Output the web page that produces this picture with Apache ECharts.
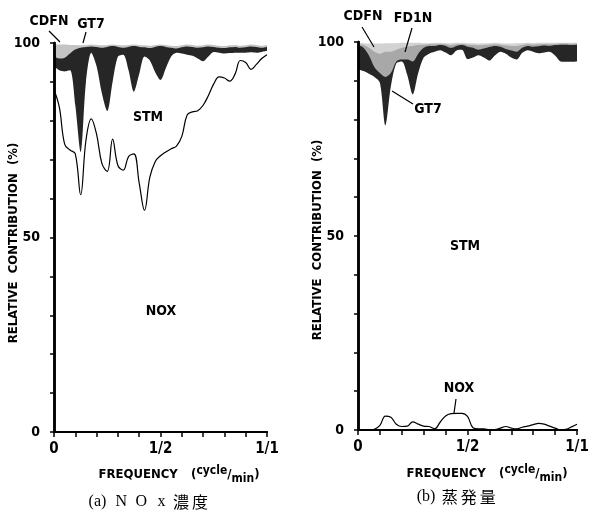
<!DOCTYPE html>
<html>
<head>
<meta charset="utf-8">
<title>relative contribution</title>
<script src="https://cdn.jsdelivr.net/npm/echarts@6/dist/echarts.min.js"></script>
<style>
  html, body { margin: 0; padding: 0; background: #fff; }
  #DIV1 { width: 594px; height: 512px; }
</style>
</head>
<body>
<div id="DIV1"></div>
<script>
// frequency grid (cycle/min), shared by every series
const freq = [0, 0.025, 0.05, 0.075, 0.1, 0.125, 0.15, 0.175, 0.2, 0.225, 0.25, 0.275, 0.3, 0.325, 0.35, 0.375, 0.4, 0.425, 0.45, 0.475, 0.5,
  0.525, 0.55, 0.575, 0.6, 0.625, 0.65, 0.675, 0.7, 0.725, 0.75, 0.775, 0.8, 0.825, 0.85, 0.875, 0.9, 0.925, 0.95, 0.975, 1];

// (a) NOx concentration: cumulative relative contribution (%)
const noxA  = [88, 83.5, 74, 72.5, 71.5, 61, 75, 80.5, 76.5, 69, 67, 75.3, 68.5, 67.3, 70.8, 71.5, 64, 57, 65.5, 69.5, 71,
  72, 72.8, 73.5, 76, 81.5, 82.3, 82.6, 84, 86.5, 89.5, 91.3, 91, 90.2, 92, 95.5, 95, 93.2, 94.5, 96, 97];
const stmA  = [94, 93, 92.7, 93, 84, 72, 90, 97.5, 94, 87, 82.5, 90, 96.5, 97, 93, 87.5, 92, 96.5, 95.5, 92.5, 90.5,
  93.5, 96.5, 97.5, 97.3, 97, 96.7, 96, 95.3, 96.5, 97.7, 97.5, 97.3, 97.4, 97.5, 97.5, 97.5, 97.6, 97.5, 97.7, 98];
const gt7A  = [96.5, 96, 96.2, 97.3, 98.3, 98.8, 99, 99.1, 99, 98.8, 99, 99.2, 99, 98.8, 99, 99.2, 99, 98.9, 98.7, 99, 99.2,
  99, 98.8, 98.6, 98.9, 99.1, 99, 98.8, 98.9, 99.1, 99, 98.8, 98.7, 98.9, 99, 98.8, 98.9, 99.1, 99, 98.8, 99];
const cdfnA = [99.7, 99.6, 99.6, 99.5, 99.5, 99.4, 99.5, 99.6, 99.5, 99.4, 99.5, 99.6, 99.5, 99.4, 99.5, 99.6, 99.5, 99.4, 99.3, 99.5, 99.6,
  99.5, 99.3, 99.2, 99.4, 99.6, 99.5, 99.3, 99.4, 99.6, 99.5, 99.3, 99.2, 99.4, 99.5, 99.3, 99.4, 99.6, 99.5, 99.3, 99.5];

// (b) evaporation
const noxB  = [0, 0, 0, 0.2, 1.2, 3.6, 3.3, 1.5, 0.9, 1, 2.1, 1.5, 1, 0.9, 0.3, 2, 3.6, 4.2, 4.3, 4.3, 3.5,
  0.6, 0.3, 0.3, 0.1, 0.1, 0.5, 0.9, 0.5, 0.3, 0.7, 1, 1.4, 1.7, 1.5, 1, 0.5, 0.1, 0.2, 0.8, 1.5];
const stmB  = [93, 92.5, 91.8, 91, 89.5, 78.5, 88.5, 94.5, 95, 91.5, 86.5, 92, 96, 97, 97.5, 97.9, 97.3, 96.6, 97.8, 98, 95.6,
  96, 96.6, 96, 95.2, 96.5, 97.5, 97, 96, 95.5, 97.2, 97.9, 97.5, 97.1, 97.3, 97.5, 96.5, 95, 94.9, 94.9, 95];
const gt7B  = [99.2, 98.5, 96.5, 93.5, 92, 91, 92, 95, 95.5, 95.5, 95, 97, 98.5, 99, 99, 99.2, 99, 98.5, 99, 99.2, 98.8,
  98.5, 98, 98.3, 98.7, 99, 98.8, 98.2, 97.8, 97.5, 98.5, 99, 98.8, 98.9, 99.1, 99, 99.2, 99.3, 99.3, 99.2, 99.3];
const fd1nB = [99.4, 99.2, 98.5, 97.5, 97, 97.5, 97.5, 98, 98.5, 98.8, 99, 99.2, 99.3, 99.4, 99.4, 99.5, 99.4, 99.2, 99.4, 99.5, 99.3,
  99.2, 99.1, 99.2, 99.3, 99.4, 99.3, 99.1, 99, 99, 99.2, 99.4, 99.3, 99.4, 99.5, 99.4, 99.5, 99.6, 99.6, 99.5, 99.6];
const cdfnB = [99.8, 99.7, 99.6, 99.6, 99.6, 99.7, 99.7, 99.7, 99.8, 99.8, 99.8, 99.8, 99.7, 99.7, 99.8, 99.8, 99.7, 99.7, 99.8, 99.8, 99.7,
  99.7, 99.6, 99.7, 99.7, 99.8, 99.7, 99.6, 99.6, 99.7, 99.7, 99.8, 99.7, 99.8, 99.8, 99.8, 99.8, 99.8, 99.8, 99.8, 99.8];

const yTickLabels = { 0: '0', 50: '50', 100: '100' };
const xTickLabels = { 0: '0', 5: '1/2', 10: '1/1' };

const BOLD = '"DejaVu Sans Condensed", "Liberation Sans", sans-serif';
const SERIF = '"Liberation Serif", serif';
const CJK = '"Noto Sans CJK JP", sans-serif';

const chart = echarts.init(document.getElementById("DIV1"));

function pairs(ys) { return freq.map((f, i) => [f, ys[i]]); }

function bottomAxis(gi) {
  return {
    gridIndex: gi, type: 'value', min: 0, max: 1, interval: 0.1, z: 10,
    axisLine: { lineStyle: { color: '#000', width: 2 } },
    axisTick: { length: 5, lineStyle: { color: '#000', width: 1.5 } },
    splitLine: { show: false },
    axisLabel: {
      margin: 10, color: '#000', fontFamily: BOLD, fontWeight: 'bold', fontSize: 15,
      showMinLabel: true, showMaxLabel: true,
      formatter: v => xTickLabels[Math.round(v * 10)] || ''
    }
  };
}
function topAxis(gi) {
  return {
    gridIndex: gi, type: 'value', position: 'top', min: 0, max: 1, z: 10,
    axisLine: { lineStyle: { color: '#000', width: 2 } },
    axisTick: { show: false }, axisLabel: { show: false }, splitLine: { show: false }
  };
}
function leftAxis(gi) {
  return {
    gridIndex: gi, type: 'value', min: 0, max: 100, interval: 10, z: 10,
    axisLine: { show: true, lineStyle: { color: '#000', width: 2.5 } },
    axisTick: { show: true, length: 4, lineStyle: { color: '#000', width: 1.5 } },
    splitLine: { show: false },
    axisLabel: {
      margin: 14, color: '#000', fontFamily: BOLD, fontWeight: 'bold', fontSize: 14,
      formatter: v => yTickLabels[v] || ''
    }
  };
}
function rightAxis(gi) {
  return {
    gridIndex: gi, type: 'value', position: 'right', min: 0, max: 100, z: 10,
    axisLine: { show: true, lineStyle: { color: '#000', width: 2.5 } },
    axisTick: { show: false }, axisLabel: { show: false }, splitLine: { show: false }
  };
}

function band(gi, name, ys, color) {
  return {
    name: name, type: 'line', xAxisIndex: gi * 2, yAxisIndex: gi * 2, data: pairs(ys),
    smooth: 0.3, symbol: 'none', silent: true,
    lineStyle: { width: 0 }, areaStyle: { color: color, opacity: 1 }
  };
}
function noxLine(gi, ys) {
  return {
    name: 'NOX', type: 'line', xAxisIndex: gi * 2, yAxisIndex: gi * 2, data: pairs(ys),
    smooth: 0.4, symbol: 'none', silent: true,
    lineStyle: { color: '#000', width: 1.2 }
  };
}

function label(x, y, text, size) {
  return { type: 'text', x: x, y: y, z: 20, style: { text: text, fill: '#000', font: 'bold ' + (size || 14) + 'px ' + BOLD, align: 'center', verticalAlign: 'middle' } };
}
function leader(x1, y1, x2, y2) {
  return { type: 'line', z: 20, shape: { x1: x1, y1: y1, x2: x2, y2: y2 }, style: { stroke: '#000', lineWidth: 1.2 } };
}
function yTitle(x, y) {
  return { type: 'text', x: x, y: y, rotation: Math.PI / 2, z: 20,
    style: { text: 'RELATIVE  CONTRIBUTION  (%)', fill: '#000', font: 'bold 13px ' + BOLD, align: 'center', verticalAlign: 'middle' } };
}
function xTitle(x, y) {
  return { type: 'text', x: x, y: y, z: 20,
    style: {
      text: '{a|FREQUENCY}    {b|(}{s|cycle}{b|/}{m|min}{b|)}',
      align: 'center', verticalAlign: 'middle',
      rich: {
        a: { font: 'bold 13px ' + BOLD, fill: '#000', lineHeight: 20, verticalAlign: 'middle' },
        b: { font: 'bold 13px ' + BOLD, fill: '#000', lineHeight: 20, verticalAlign: 'middle' },
        s: { font: 'bold 12px ' + BOLD, fill: '#000', lineHeight: 12, verticalAlign: 'top' },
        m: { font: 'bold 12px ' + BOLD, fill: '#000', lineHeight: 12, verticalAlign: 'bottom' }
      }
    } };
}
function caption(x, y, text) {
  return { type: 'text', x: x, y: y, z: 20,
    style: {
      text: text, align: 'center', verticalAlign: 'middle',
      rich: {
        p: { font: '16px ' + SERIF, fill: '#000', padding: [0, 5, 0, 0] },
        c: { font: '16px ' + SERIF, fill: '#000', width: 20, align: 'center' },
        k: { font: '16px ' + CJK, fill: '#000', width: 19, align: 'center' }
      }
    } };
}

const option = {
  animation: false,
  backgroundColor: '#fff',
  grid: [
    { left: 54, top: 43, width: 213, height: 389 },
    { left: 358, top: 42, width: 219, height: 388 }
  ],
  xAxis: [bottomAxis(0), topAxis(0), bottomAxis(1), topAxis(1)],
  yAxis: [leftAxis(0), rightAxis(0), leftAxis(1), rightAxis(1)],
  series: [
    band(0, 'CDFN', cdfnA, '#c4c4c4'),
    band(0, 'GT7', gt7A, '#262626'),
    band(0, 'STM', stmA, '#ffffff'),
    noxLine(0, noxA),
    band(1, 'CDFN', cdfnB, '#d2d2d2'),
    band(1, 'FD1N', fd1nB, '#a8a8a8'),
    band(1, 'GT7', gt7B, '#262626'),
    band(1, 'STM', stmB, '#ffffff'),
    noxLine(1, noxB)
  ],
  graphic: [
    yTitle(14, 243), yTitle(318, 240),
    label(49, 21, 'CDFN'), label(91, 24, 'GT7'),
    leader(49, 31, 60, 42), leader(86, 32, 83, 43),
    label(148, 117, 'STM'), label(161, 311, 'NOX'),
    label(363, 16, 'CDFN'), label(413, 18, 'FD1N'), label(428, 109, 'GT7'),
    leader(362, 27, 374, 47), leader(412, 28, 405, 52), leader(413, 104, 392, 91),
    label(465, 246, 'STM'), label(459, 388, 'NOX'), leader(456, 399, 454, 413),
    xTitle(179, 475), xTitle(487, 474),
    caption(149, 502, '{p|(a)}{c|N}{c|O}{c|x}{k|濃}{k|度}'),
    caption(457, 497, '{p|(b)}{k|蒸}{k|発}{k|量}')
  ]
};
chart.setOption(option);
</script>
</body>
</html>
